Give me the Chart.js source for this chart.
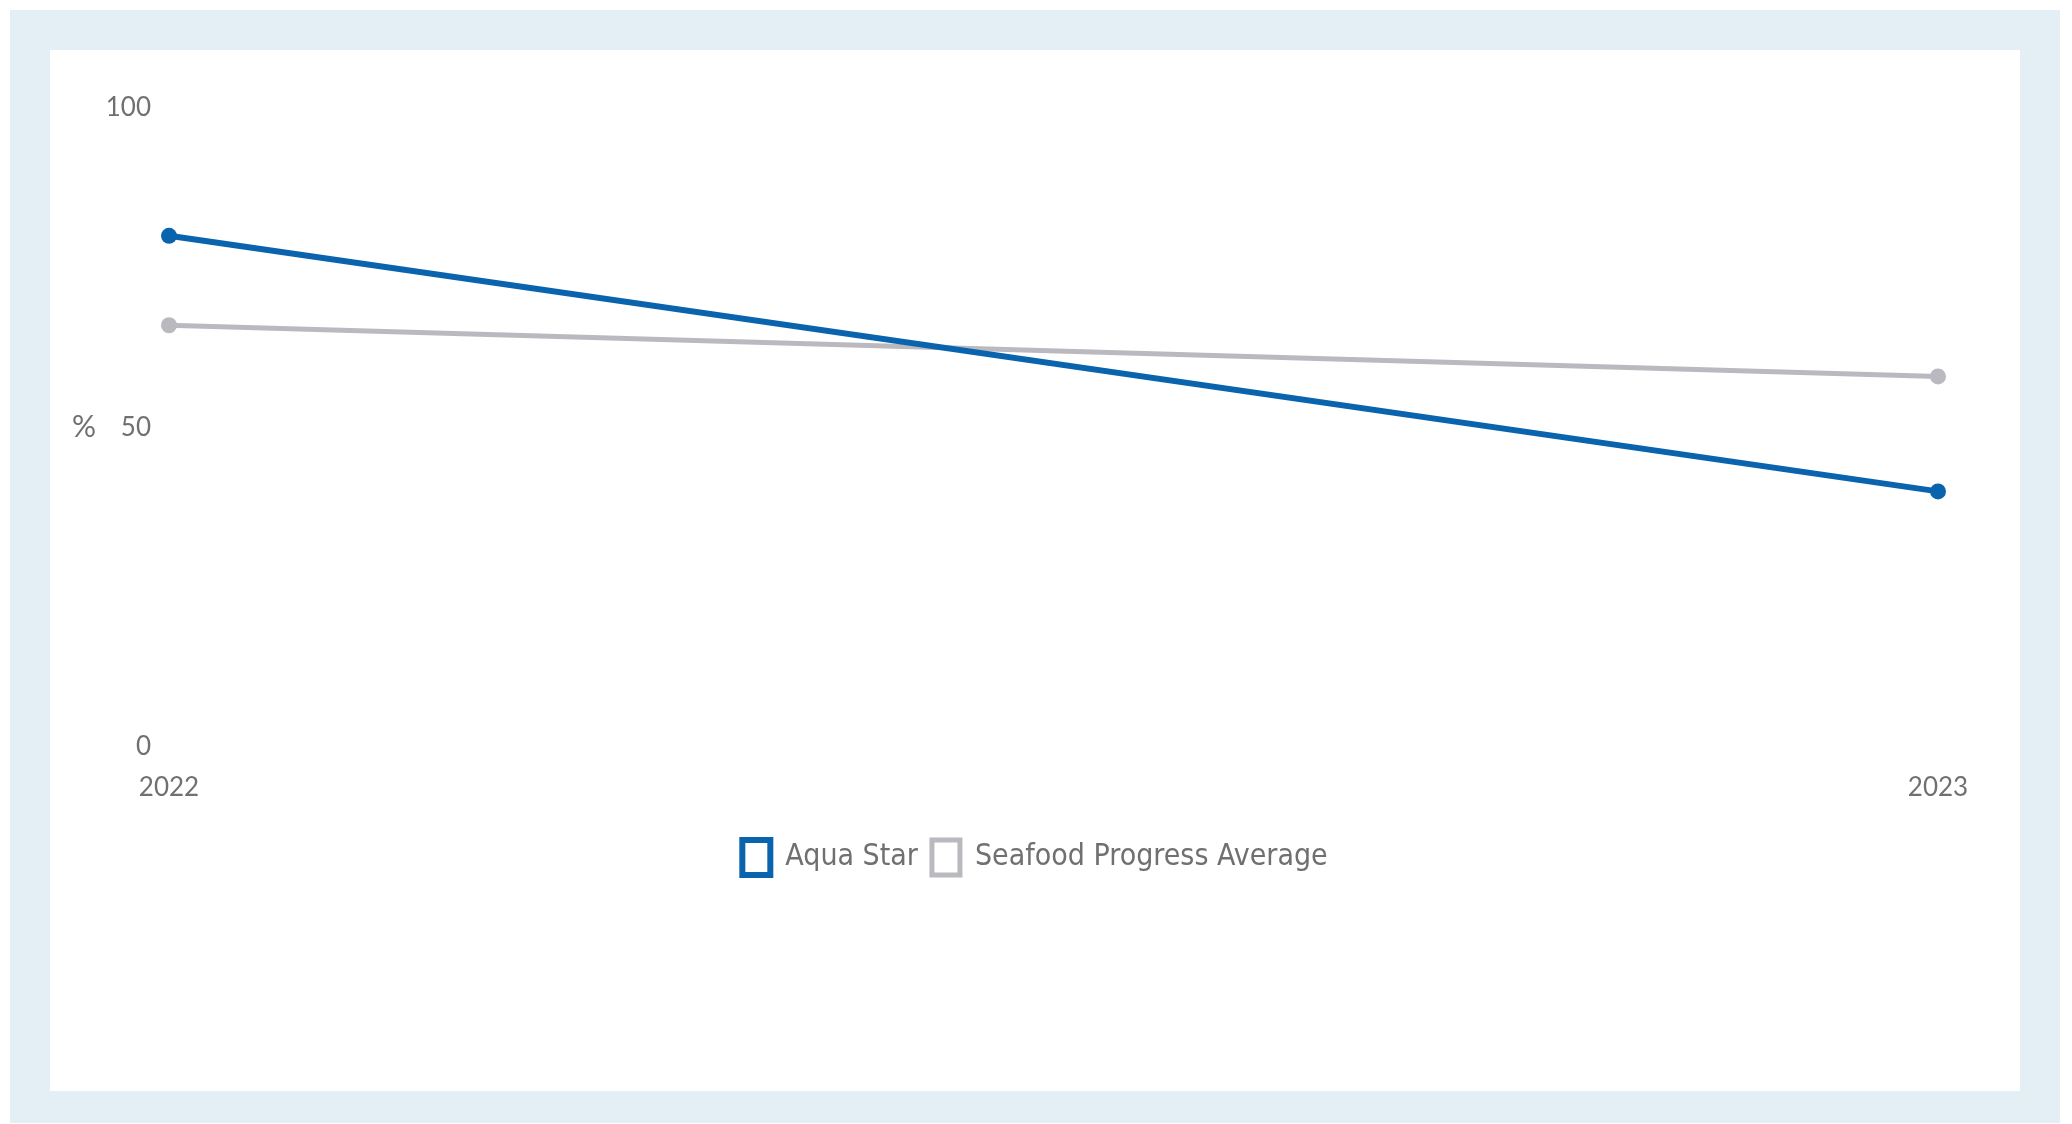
<!DOCTYPE html>
<html lang="en">

<head>
  <meta charset="UTF-8">
  <meta name="viewport" content="width=device-width, initial-scale=1.0">
  <script src="https://cdn.jsdelivr.net/npm/chart.js@4.4.0/dist/chart.umd.min.js"></script>
  <style>
    body {
      margin: 0;
      background: #fff;
    }

    #frame {
      position: absolute;
      left: 10px;
      top: 10px;
      width: 2050px;
      height: 1113px;
      background: #e4eef5;
    }

    #panel {
      position: absolute;
      left: 40px;
      top: 40px;
      width: 1970px;
      height: 1041px;
      background: #fff;
    }
  </style>
  <title>Aqua Star</title>
</head>

<body>
  <div id="frame">
    <div id="panel">
      <canvas id="chart" width="1970" height="1041"></canvas>
    </div>
  </div>

  <script>
    // years on the x axis
    const years = ['2022', '2023']
    // percentage scores per year
    const aquaStar = [80, 40]
    const seafoodAverage = [66, 58]
    const yTicks = [0, 50, 100]

    const blue = '#0a63ad'
    const grey = '#b9b9bf'
    const textGrey = '#707070'

    // "%" written horizontally beside the 50 tick
    const unitLabel = {
      id: 'unitLabel',
      afterDraw(chart) {
        const ctx = chart.ctx
        const y = chart.scales.y.getPixelForValue(50)
        ctx.save()
        ctx.font = '30px Lato'
        ctx.fillStyle = textGrey
        ctx.textAlign = 'center'
        ctx.textBaseline = 'middle'
        ctx.fillText('%', 34, y)
        ctx.restore()
      }
    }

    const data = {
      labels: years,
      datasets: [{
        label: 'Aqua Star',
        data: aquaStar,
        borderColor: blue,
        backgroundColor: '#fff',
        pointBackgroundColor: blue,
        pointBorderWidth: 0,
        pointRadius: 8,
        borderWidth: 6
      }, {
        label: 'Seafood Progress Average',
        data: seafoodAverage,
        borderColor: grey,
        backgroundColor: '#fff',
        pointBackgroundColor: grey,
        pointBorderWidth: 0,
        pointRadius: 8,
        borderWidth: 5
      }]
    }

    const config = {
      type: 'line',
      data: data,
      plugins: [unitLabel],
      options: {
        responsive: false,
        animation: false,
        layout: {
          padding: { left: 0, right: 0, top: 58, bottom: 206 }
        },
        scales: {
          x: {
            offset: false,
            grid: { display: false, drawTicks: false },
            border: { display: false },
            ticks: {
              color: textGrey,
              font: { family: 'Lato', size: 26 },
              padding: 25,
              maxRotation: 0
            },
            afterFit(s) { s.height = 79 }
          },
          y: {
            min: 0,
            max: 100,
            grid: { display: false, drawTicks: false },
            border: { display: false },
            afterBuildTicks(s) { s.ticks = yTicks.map(v => ({ value: v })) },
            ticks: {
              color: textGrey,
              font: { family: 'Lato', size: 26 },
              padding: 18
            },
            afterFit(s) { s.width = 119 }
          },
          // empty right-hand axis: reserves space so the legend stays centred
          spacer: {
            position: 'right',
            grid: { display: false, drawTicks: false },
            border: { display: false },
            ticks: { display: false },
            afterFit(s) { s.width = 82 }
          }
        },
        plugins: {
          tooltip: { enabled: false },
          legend: {
            position: 'bottom',
            labels: {
              color: textGrey,
              font: { family: "'Liberation Sans Narrow', 'DejaVu Sans Condensed', sans-serif", size: 30 },
              boxWidth: 28,
              boxHeight: 35,
              padding: 14
            }
          }
        }
      }
    }

    const chart = new Chart(document.getElementById('chart'), config)
  </script>
</body>

</html>
